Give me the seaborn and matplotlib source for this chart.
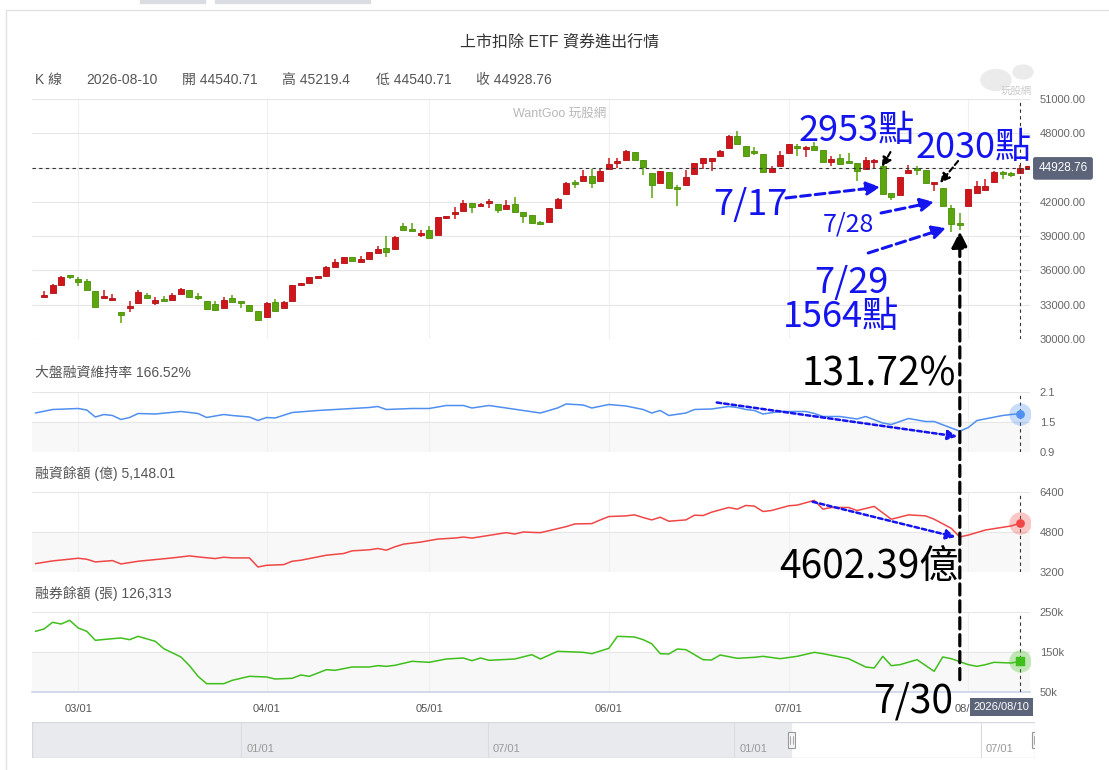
import matplotlib
matplotlib.use("Agg")
import numpy as np
import matplotlib.pyplot as plt
from matplotlib.patches import Rectangle, Circle, ConnectionPatch
from matplotlib import font_manager
import seaborn as sns

W, H = 1109, 770

# ---- data ----
month_ticks = [4, 26, 45, 66, 87, 108]
month_labels = ['03/01', '04/01', '05/01', '06/01', '07/01', '08/01']
cross_idx = 114
cross_date = '2026/08/10'

opens = [33700, 34000, 34700, 35450, 35250, 35075, 34200, 33600, 33450, 32330,
         32700, 33130, 33850, 33180, 33500, 33390, 33920, 34260, 33760, 33300,
         33040, 32700, 33560, 33240, 32950, 32430, 31900, 33210, 32690, 33360,
         34725, 34930, 35340, 35540, 36330, 36680, 37150, 36770, 37030, 37560,
         37940, 37850, 39890, 39540, 39100, 39540, 39130, 40580, 40960, 41230,
         41900, 41670, 41870, 41790, 41400, 41790, 41090, 40820, 40270, 40240,
         41420, 42660, 43740, 43800, 44240, 43800, 44860, 45370, 45640, 46340,
         45640, 44500, 43620, 44590, 43190, 43500, 44410, 45420, 45610, 45990,
         46690, 47760, 46890, 46340, 46160, 44590, 45110, 46250, 46830, 46600,
         46890, 46540, 45460, 45810, 45460, 45370, 44880, 45460, 45160, 42750,
         42570, 44500, 44880, 44790, 43560, 43190, 41440, 40040, 41640, 42750,
         43040, 43760, 44500, 44500, 44540.71, 44900]
closes = [33800, 34700, 35400, 35400, 35000, 34260, 32775, 33740, 33620, 32080,
          32870, 34110, 33560, 33410, 33300, 33850, 34350, 33650, 33560, 32660,
          32570, 33380, 33270, 33130, 32480, 31700, 33130, 32480, 33210, 34700,
          34870, 35430, 35480, 36300, 36740, 37150, 36800, 37030, 37590, 37910,
          37650, 38920, 39570, 39480, 39250, 38870, 40650, 40740, 41110, 41900,
          41580, 41810, 41990, 41330, 41700, 41150, 40790, 40130, 40060, 41420,
          42250, 43620, 43560, 44240, 43620, 44670, 45290, 45580, 46450, 45640,
          45030, 43450, 44670, 43190, 43100, 44150, 45370, 45810, 45810, 46480,
          47790, 47040, 46010, 46250, 44590, 44940, 46100, 47040, 46740, 46830,
          46540, 45460, 45750, 45290, 45370, 44680, 45660, 45660, 42690, 42460,
          44200, 44790, 44790, 43620, 43680, 41640, 40060, 39950, 43120, 43390,
          43390, 44640, 44410, 44350, 44928.76, 45100]
highs = [34200, 34800, 35500, 35600, 35400, 35225, 34200, 34300, 33900, 32330,
         33300, 34250, 34000, 33700, 33800, 34000, 34450, 34300, 34000, 33300,
         33300, 33650, 33850, 33240, 32950, 32430, 33200, 33470, 33300, 34750,
         34900, 35450, 35550, 36350, 37000, 37200, 37150, 37300, 37650, 38150,
         39050, 39000, 40150, 40150, 39500, 39850, 40700, 40800, 41540, 42150,
         41900, 41900, 42250, 41790, 42150, 42450, 41090, 40820, 40300, 41500,
         42350, 43700, 43900, 44750, 44880, 44860, 45840, 45840, 46550, 46340,
         45640, 44500, 44700, 44590, 43450, 44750, 45400, 45850, 45850, 46500,
         47870, 48170, 46890, 46810, 46160, 45100, 46450, 47100, 47100, 46900,
         47220, 46540, 46020, 46160, 46250, 45370, 45950, 45750, 45160, 42750,
         44200, 45190, 45160, 44790, 43680, 43190, 41730, 40990, 43120, 43800,
         43980, 44700, 44680, 44600, 45219.4, 45150]
lows = [33650, 34000, 34650, 35250, 34650, 34260, 32775, 33550, 33300, 31420,
        32400, 33100, 33560, 32950, 33300, 33390, 33920, 33650, 33450, 32500,
        32460, 32700, 33270, 32750, 32400, 31700, 31850, 32480, 32690, 33360,
        34640, 34930, 35280, 35540, 36330, 36680, 36800, 36770, 37030, 37560,
        37200, 37850, 39570, 39480, 38900, 38870, 39130, 40500, 40510, 41230,
        41000, 41600, 41500, 41000, 41400, 41150, 40130, 40130, 40000, 40240,
        41420, 42660, 43250, 43800, 43250, 43800, 44860, 44950, 45640, 45640,
        44380, 42380, 43620, 43190, 41670, 43500, 44410, 44860, 44690, 45990,
        46690, 47040, 45900, 46080, 44590, 44590, 45110, 46250, 46020, 45950,
        46540, 45460, 45110, 45290, 45370, 43800, 44880, 44960, 42690, 42160,
        42570, 44500, 44330, 43620, 42920, 41640, 39350, 39540, 41640, 42750,
        42950, 43760, 43960, 44150, 44540.71, 44850]

# 大盤融資維持率 (ratio)
ratio_idx = [-1, 1, 4, 5, 6, 7, 8, 9, 10, 11,
             13, 16, 18, 19, 21, 22, 24, 25, 26, 27,
             29, 32, 35, 38, 39, 40, 43, 45, 47, 49,
             50, 52, 54, 56, 58, 60, 61, 63, 64, 66,
             68, 70, 71, 72, 73, 75, 76, 78, 80, 81,
             82, 83, 84, 86, 89, 90, 91, 93, 95, 96,
             98, 99, 101, 103, 104, 106, 107, 108, 109, 112,
             113, 114]
ratio_vals = [1.68, 1.75, 1.77, 1.74, 1.60, 1.65, 1.63, 1.55, 1.59, 1.67,
              1.66, 1.71, 1.67, 1.59, 1.65, 1.63, 1.60, 1.53, 1.59, 1.58,
              1.69, 1.73, 1.76, 1.79, 1.81, 1.75, 1.77, 1.77, 1.83, 1.83,
              1.78, 1.83, 1.78, 1.73, 1.68, 1.78, 1.86, 1.84, 1.78, 1.85,
              1.82, 1.75, 1.68, 1.73, 1.63, 1.68, 1.75, 1.76, 1.81, 1.79,
              1.75, 1.73, 1.66, 1.71, 1.71, 1.67, 1.61, 1.61, 1.56, 1.61,
              1.48, 1.45, 1.57, 1.51, 1.51, 1.38, 1.3172, 1.39, 1.53, 1.63,
              1.65, 1.6652]

# 融資餘額 (億)
fin_idx = [-1, 1, 4, 5, 6, 8, 9, 11, 13, 15,
           17, 18, 20, 21, 22, 24, 25, 26, 28, 29,
           30, 33, 35, 36, 38, 39, 40, 41, 42, 44,
           46, 48, 49, 50, 52, 54, 55, 56, 58, 59,
           61, 62, 64, 65, 66, 68, 69, 70, 71, 72,
           73, 75, 76, 77, 78, 80, 81, 82, 83, 84,
           85, 87, 88, 90, 91, 92, 94, 95, 97, 99,
           101, 103, 104, 106, 107, 108, 110, 113, 114]
fin_vals = [3535, 3643, 3750, 3710, 3603, 3656, 3522, 3630, 3697, 3764,
            3845, 3804, 3737, 3791, 3764, 3764, 3400, 3468, 3495, 3630,
            3670, 3872, 3939, 4046, 4087, 4140, 4073, 4208, 4315, 4396,
            4517, 4557, 4598, 4557, 4665, 4773, 4719, 4800, 4773, 4853,
            5015, 5122, 5136, 5284, 5418, 5445, 5485, 5378, 5284, 5391,
            5230, 5284, 5472, 5458, 5593, 5781, 5714, 5862, 5835, 5620,
            5660, 5849, 5876, 6064, 5714, 5781, 5781, 5660, 5822, 5311,
            5485, 5445, 5311, 4947, 4602.39, 4678, 4880, 5042, 5148.01]

# 融券餘額 (張, in thousands)
short_idx = [-1, 0, 1, 2, 3, 4, 5, 6, 8, 9,
             10, 11, 13, 14, 16, 17, 18, 19, 21, 22,
             24, 26, 27, 29, 30, 31, 33, 34, 36, 38,
             39, 40, 41, 43, 45, 47, 49, 50, 51, 52,
             55, 57, 58, 60, 63, 64, 66, 67, 69, 70,
             71, 72, 73, 74, 75, 77, 78, 79, 81, 83,
             84, 86, 88, 90, 91, 94, 96, 97, 98, 99,
             100, 102, 104, 105, 106, 108, 109, 110, 111, 113,
             114]
short_vals = [201.7, 207.5, 224.2, 220.0, 229.2, 210.0, 201.7, 179.2, 183.3, 185.0,
              180.8, 189.2, 176.7, 158.3, 137.5, 115.8, 89.2, 70.8, 70.8, 79.2,
              89.2, 87.5, 82.5, 84.2, 92.5, 89.2, 105.8, 104.2, 112.5, 112.5,
              115.8, 114.2, 116.7, 126.7, 124.2, 132.5, 135.0, 128.3, 135.0, 129.2,
              132.5, 143.3, 132.5, 151.7, 149.2, 145.8, 159.2, 189.2, 187.5, 180.8,
              170.8, 145.8, 145.0, 157.5, 155.8, 130.8, 130.0, 142.5, 134.2, 136.7,
              139.2, 133.3, 139.2, 149.2, 145.8, 133.3, 112.5, 110.0, 139.2, 115.8,
              118.3, 130.8, 101.7, 137.5, 133.3, 118.3, 114.2, 118.3, 124.2, 122.5,
              126.313]

# navigator (months since 2024-07)
nav_lines = [6, 12, 18, 24]
nav_labels = ['01/01', '07/01', '01/01', '07/01']
nav_window = [19.39, 25.32]

# ---- style ----
sns.set_theme(style="white")
plt.rcParams['font.family'] = ['Liberation Sans', 'Noto Sans CJK TC', 'DejaVu Sans']
names = {f.name for f in font_manager.fontManager.ttflist}
cjk = ['Noto Sans CJK TC', 'DejaVu Sans']
narrow = (['Liberation Sans Narrow'] if 'Liberation Sans Narrow' in names else []) + cjk
big_black = 32 if 'Liberation Sans Narrow' in names else 28

blue = '#1414ee'
red_c, green_c = '#d0161b', '#5aa60c'


def rect(l, t, r, b):
    return [l / W, 1 - b / H, (r - l) / W, (b - t) / H]


fig = plt.figure(figsize=(W / 100, H / 100), dpi=100)
ax1 = fig.add_axes(rect(32, 99, 1030, 339))
ax2 = fig.add_axes(rect(32, 392, 1030, 452))
ax3 = fig.add_axes(rect(32, 492, 1030, 572))
ax4 = fig.add_axes(rect(32, 612, 1030, 692))
nav = fig.add_axes(rect(32, 722, 1035, 758))

for ax in (ax1, ax2, ax3, ax4):
    ax.set_xlim(-1.4, 115.2)
    for s in ax.spines.values():
        s.set_visible(False)
    ax.yaxis.tick_right()
    ax.tick_params(length=0, labelsize=8, labelcolor='#666666', pad=7)
    ax.set_xticks(month_ticks)
    ax.grid(axis='y', color='#e6e6e6', lw=0.8)
    ax.grid(axis='x', color='#f0f0f0', lw=0.8)
    ax.set_axisbelow(True)
    ax.axvline(cross_idx, color='#333333', lw=0.8, ls=(0, (3, 3)), zorder=4)
for ax in (ax1, ax2, ax3):
    ax.set_xticklabels([])

# candles
o, c, h, l = map(np.array, (opens, closes, highs, lows))
idx = np.arange(len(o))
col = np.where(c >= o, red_c, green_c)
edge = np.where(c >= o, '#b01014', '#4a8f08')
body_lo = np.minimum(o, c)
body_h = np.maximum(np.abs(c - o), 170)
ax1.vlines(idx, l, h, colors=col, lw=1.1, zorder=3)
ax1.bar(idx, body_h, bottom=body_lo, width=0.7, color=col, edgecolor=edge, linewidth=0.6, zorder=3)
ax1.set_ylim(30000, 51000)
yt = list(range(30000, 51001, 3000))
# the price tag covers the tick label next to the last close
ax1.set_yticks(yt, ['' if abs(v - closes[cross_idx]) < 1000 else f'{v:.2f}' for v in yt])
ax1.axhline(closes[cross_idx], color='#333333', lw=0.8, ls=(0, (3, 3)), zorder=4)
ax1.annotate(f'{closes[cross_idx]:.2f}', xy=(1, closes[cross_idx]), xycoords=('axes fraction', 'data'),
             xytext=(6, 0), textcoords='offset points', ha='left', va='center', fontsize=8.5, color='white',
             bbox=dict(boxstyle='round,pad=0.45,rounding_size=0.2', fc='#5b6478', ec='none'),
             annotation_clip=False, zorder=10)

# line panels
panels = [
    (ax2, ratio_idx, ratio_vals, '#4f8ff0', (0.9, 2.1), [0.9, 1.5, 2.1], ['0.9', '1.5', '2.1'], 'o'),
    (ax3, fin_idx, fin_vals, '#f04646', (3200, 6400), [3200, 4800, 6400], ['3200', '4800', '6400'], 'o'),
    (ax4, short_idx, short_vals, '#3fbf1c', (50, 250), [50, 150, 250], ['50k', '150k', '250k'], 's'),
]
for ax, xs, ys, color, lim, ticks, labels, mk in panels:
    ax.axhspan(ticks[0], ticks[1], color='#f8f8f8', zorder=0)
    sns.lineplot(x=xs, y=ys, ax=ax, color=color, lw=1.1, estimator=None, zorder=3)
    ax.scatter([xs[-1]], [ys[-1]], s=260, color=color, alpha=0.3, lw=0, zorder=5)
    ax.scatter([xs[-1]], [ys[-1]], s=28 if mk == 'o' else 40, marker=mk, color=color, zorder=6)
    ax.set_ylim(*lim)
    ax.set_yticks(ticks, labels)
    ax.set_xlabel('')
    ax.set_ylabel('')
    ax.set_xlim(-1.4, 115.2)

ax4.set_xticks(month_ticks, month_labels)
ax4.tick_params(axis='x', labelsize=8, labelcolor='#555555', pad=9)
ax4.spines['bottom'].set_visible(True)
ax4.spines['bottom'].set_color('#ccd6eb')
ax4.annotate(cross_date, xy=(cross_idx, 0), xycoords=('data', 'axes fraction'), xytext=(-13, -11),
             textcoords='offset points', ha='center', va='center', fontsize=8, color='white',
             bbox=dict(boxstyle='square,pad=0.35', fc='#5b6478', ec='none'), annotation_clip=False, zorder=10)

# annotations
def arrow(ax, xy, xytext, color, lw, dash, ms):
    ax.annotate('', xy=xy, xytext=xytext, annotation_clip=False,
                arrowprops=dict(arrowstyle='-|>', color=color, lw=lw, linestyle=dash,
                                mutation_scale=ms, shrinkA=0, shrinkB=0))


def label(ax, x, y, s, color, size, fam):
    ax.text(x, y, s, color=color, fontsize=size, ha='center', va='center', family=fam, clip_on=False, zorder=9)


label(ax1, 94.9, 48200, '2953點', blue, 26, cjk)
label(ax1, 108.6, 46712, '2030點', blue, 26, cjk)
label(ax1, 82.5, 41725, '7/17', blue, 26, cjk)
label(ax1, 94.0, 40062, '7/28', blue, 18, cjk)
label(ax1, 94.3, 34900, '7/29', blue, 26, cjk)
label(ax1, 93.1, 31925, '1564點', blue, 26, cjk)
arrow(ax1, (97.9, 45050), (98.9, 46360), 'black', 1.5, (0, (2.5, 1.5)), 14)
arrow(ax1, (104.7, 43650), (106.8, 45575), 'black', 1.5, (0, (2.5, 1.5)), 14)
arrow(ax1, (97.7, 43300), (86.7, 42340), blue, 2.2, (0, (3.2, 1.6)), 20)
arrow(ax1, (104.0, 41990), (97.8, 41025), blue, 2.2, (0, (3.2, 1.6)), 20)
arrow(ax1, (105.4, 39710), (96.3, 37525), blue, 2.2, (0, (3.2, 1.6)), 20)

label(ax2, 97.5, 2.45, '131.72%', 'black', big_black, narrow)
arrow(ax2, (106.7, 1.21), (78.6, 1.89), blue, 1.8, (0, (1.8, 1.2)), 14)
label(ax3, 96.4, 3349, '4602.39億', 'black', big_black, narrow)
arrow(ax3, (106.5, 4599), (89.8, 6009), blue, 1.8, (0, (1.8, 1.2)), 14)
label(ax4, 101.6, 25.75, '7/30', 'black', big_black, narrow)

con = ConnectionPatch(xyA=(107, 80.75), coordsA=ax4.transData, xyB=(107, 39420), coordsB=ax1.transData,
                      arrowstyle='-|>', color='black', lw=2.3, linestyle=(0, (3.5, 1.8)),
                      mutation_scale=24, shrinkA=0, shrinkB=0, zorder=8)
fig.add_artist(con)

# navigator
nav.set_xlim(0.9, 25.32)
nav.set_ylim(0, 1)
nav.axis('off')
nav.axvspan(0.9, nav_window[0], color='#e8eaee', zorder=0)
nav.add_patch(Rectangle((0.9, 0), 25.32 - 0.9, 1, fill=False, ec='#d5d8de', lw=1))
for m, t in zip(nav_lines, nav_labels):
    nav.axvline(m, color='#d8dbe0', lw=0.8)
    nav.text(m + 0.12, 0.25, t, fontsize=8, color='#999999', ha='left', va='center')
for xh in nav_window:
    nav.add_patch(Rectangle((xh - 0.085, 0.28), 0.17, 0.44, fc='#f4f4f4', ec='#999999', lw=0.8, zorder=5))
    nav.plot([xh - 0.03, xh - 0.03], [0.38, 0.62], color='#999999', lw=0.6, zorder=6)
    nav.plot([xh + 0.03, xh + 0.03], [0.38, 0.62], color='#999999', lw=0.6, zorder=6)

# header texts
fig.text(560 / W, 1 - 42 / H, '上市扣除 ETF 資券進出行情', ha='center', va='center', fontsize=11.5, color='#333333')
row = [(35, 'K 線'), (86, '2026-08-10'), (182, f'開 {opens[cross_idx]}'), (282, f'高 {highs[cross_idx]}'),
       (376, f'低 {lows[cross_idx]}'), (476, f'收 {closes[cross_idx]}')]
for x, s in row:
    fig.text(x / W, 1 - 80 / H, s, ha='left', va='center', fontsize=10, color='#555555')
fig.text(560 / W, 1 - 114 / H, 'WantGoo 玩股網', ha='center', va='center', fontsize=9, color='#b8b8b8')
fig.text(35 / W, 1 - 373 / H, f'大盤融資維持率 {ratio_vals[-1] * 100:.2f}%', ha='left', va='center', fontsize=10, color='#555555')
fig.text(35 / W, 1 - 473 / H, f'融資餘額 (億) {fin_vals[-1]:,.2f}', ha='left', va='center', fontsize=10, color='#555555')
fig.text(35 / W, 1 - 593 / H, f'融券餘額 (張) {short_vals[-1] * 1000:,.0f}', ha='left', va='center', fontsize=10, color='#555555')

# logo, frame and tabs
fig.add_artist(Circle((996 / W, 1 - 80 / H), 15 / W, color='#ebebeb', transform=fig.transFigure))
fig.add_artist(Circle((1023 / W, 1 - 72 / H), 10 / W, color='#ebebeb', transform=fig.transFigure))
fig.text(1016 / W, 1 - 91 / H, '玩股網', ha='center', va='center', fontsize=7.5, color='#cccccc')
fig.add_artist(plt.Line2D([6 / W, 6 / W], [0, 1 - 10 / H], color='#e2e2e2', lw=1, transform=fig.transFigure))
fig.add_artist(plt.Line2D([6 / W, 1], [1 - 10 / H, 1 - 10 / H], color='#e2e2e2', lw=1, transform=fig.transFigure))
for a, b in [(140, 205), (215, 370)]:
    fig.add_artist(Rectangle((a / W, 1 - 3 / H), (b - a) / W, 3 / H, color='#d9dce1', transform=fig.transFigure))

fig.savefig('out.png', dpi=100)
